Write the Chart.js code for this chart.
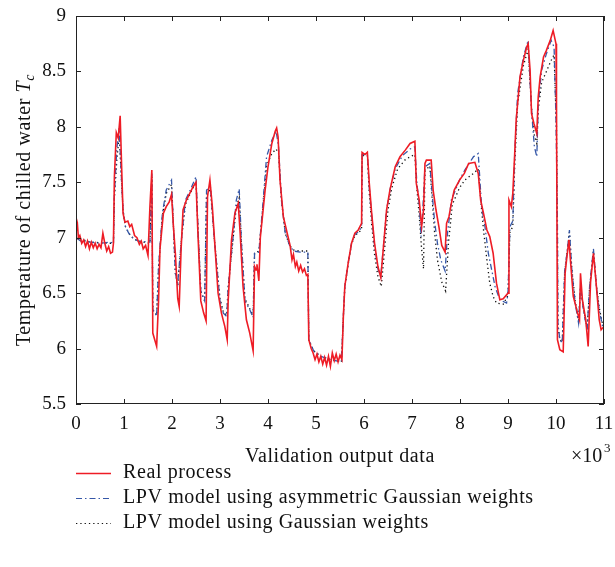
<!DOCTYPE html>
<html>
<head>
<meta charset="utf-8">
<script src="https://cdn.jsdelivr.net/npm/chart.js@4.4.1/dist/chart.umd.min.js"></script>
<style>
  html, body { margin: 0; padding: 0; background: #fff; }
  #wrap { width: 615px; height: 567px; }
</style>
</head>
<body>
<div id="wrap"><canvas id="chart" width="615" height="567"></canvas></div>
<script>
// ---------------------------------------------------------------------------
// Data (x in thousands of samples, y = chilled water temperature)
// ---------------------------------------------------------------------------
const realProcess = [
  [0.00, 7.05], [0.03, 7.12], [0.05, 7.00], [0.08, 7.02], [0.12, 6.95], [0.16, 6.98],
  [0.20, 6.92], [0.24, 6.97], [0.28, 6.90], [0.32, 6.96], [0.36, 6.91], [0.40, 6.95],
  [0.44, 6.90], [0.48, 6.94], [0.52, 6.91], [0.56, 7.04], [0.60, 6.95], [0.64, 6.88],
  [0.68, 6.92], [0.72, 6.86], [0.76, 6.87], [0.78, 6.95], [0.80, 7.55], [0.84, 7.95],
  [0.88, 7.90], [0.92, 8.10], [0.95, 7.65], [0.98, 7.22], [1.02, 7.14], [1.08, 7.15],
  [1.12, 7.10], [1.16, 7.12], [1.22, 7.02], [1.27, 7.00], [1.32, 6.94], [1.36, 6.97],
  [1.40, 6.90], [1.45, 6.93], [1.50, 6.84], [1.54, 7.28], [1.58, 7.61], [1.60, 6.14],
  [1.64, 6.08], [1.68, 6.02], [1.72, 6.43], [1.75, 6.90], [1.82, 7.22], [1.88, 7.28],
  [1.94, 7.32], [1.99, 7.39], [2.03, 7.10], [2.07, 6.86], [2.12, 6.45], [2.15, 6.38],
  [2.19, 6.90], [2.23, 7.25], [2.30, 7.34], [2.37, 7.40], [2.44, 7.46], [2.50, 7.50],
  [2.54, 7.04], [2.60, 6.43], [2.66, 6.32], [2.71, 6.25], [2.74, 7.37], [2.79, 7.52],
  [2.84, 7.28], [2.90, 6.89], [2.96, 6.50], [3.03, 6.32], [3.10, 6.20], [3.15, 6.08],
  [3.17, 6.43], [3.24, 6.98], [3.31, 7.22], [3.38, 7.31], [3.42, 7.04], [3.48, 6.56],
  [3.55, 6.26], [3.62, 6.14], [3.69, 5.98], [3.72, 6.74], [3.75, 6.71], [3.77, 6.76],
  [3.81, 6.61], [3.84, 7.00], [3.94, 7.43], [4.00, 7.64], [4.08, 7.85], [4.15, 7.96],
  [4.18, 7.99], [4.21, 7.91], [4.25, 7.52], [4.32, 7.19], [4.40, 7.04], [4.46, 6.93],
  [4.50, 6.80], [4.53, 6.85], [4.57, 6.74], [4.60, 6.78], [4.64, 6.70], [4.68, 6.75],
  [4.72, 6.69], [4.76, 6.72], [4.80, 6.66], [4.83, 6.67], [4.85, 6.08], [4.90, 6.00],
  [4.94, 5.96], [4.98, 5.90], [5.02, 5.95], [5.06, 5.88], [5.10, 5.93], [5.14, 5.86],
  [5.18, 5.92], [5.22, 5.85], [5.26, 5.93], [5.30, 5.84], [5.34, 5.96], [5.38, 5.89],
  [5.42, 5.95], [5.46, 5.88], [5.50, 5.94], [5.54, 5.90], [5.57, 6.29], [5.60, 6.56],
  [5.67, 6.77], [5.74, 6.95], [5.81, 7.04], [5.88, 7.07], [5.95, 7.13], [5.96, 7.77],
  [6.02, 7.75], [6.07, 7.77], [6.11, 7.49], [6.16, 7.22], [6.22, 6.95], [6.29, 6.74],
  [6.35, 6.64], [6.40, 6.89], [6.47, 7.25], [6.54, 7.43], [6.65, 7.64], [6.75, 7.73],
  [6.86, 7.79], [6.96, 7.85], [7.06, 7.87], [7.09, 7.49], [7.15, 7.34], [7.20, 7.10],
  [7.24, 7.25], [7.27, 7.67], [7.30, 7.70], [7.40, 7.70], [7.44, 7.43], [7.50, 7.25],
  [7.56, 7.10], [7.62, 6.93], [7.69, 6.87], [7.72, 7.13], [7.77, 7.19], [7.82, 7.31],
  [7.88, 7.43], [7.99, 7.52], [8.09, 7.58], [8.18, 7.67], [8.31, 7.68], [8.38, 7.58],
  [8.43, 7.34], [8.49, 7.22], [8.56, 7.07], [8.62, 7.01], [8.69, 6.86], [8.76, 6.59],
  [8.83, 6.44], [8.90, 6.45], [9.00, 6.50], [9.02, 7.34], [9.07, 7.28], [9.10, 7.40],
  [9.14, 7.76], [9.17, 8.06], [9.25, 8.45], [9.32, 8.60], [9.39, 8.72], [9.42, 8.75],
  [9.46, 8.51], [9.49, 8.12], [9.54, 8.03], [9.60, 7.94], [9.63, 8.27], [9.67, 8.45],
  [9.74, 8.63], [9.80, 8.69], [9.88, 8.78], [9.94, 8.87], [10.00, 8.75], [10.01, 8.24],
  [10.03, 6.08], [10.08, 5.99], [10.15, 5.97], [10.19, 6.68], [10.22, 6.80], [10.27, 6.98],
  [10.30, 6.80], [10.36, 6.47], [10.45, 6.32], [10.49, 6.26], [10.51, 6.68], [10.55, 6.44],
  [10.62, 6.26], [10.67, 6.02], [10.72, 6.60], [10.78, 6.86], [10.83, 6.62], [10.90, 6.26],
  [10.94, 6.17], [11.00, 6.20]
];

const lpvAsymmetric = [
  [0.00, 7.00], [0.10, 6.97], [0.30, 6.96], [0.50, 6.95], [0.70, 6.96], [0.78, 6.95],
  [0.80, 7.40], [0.85, 7.80], [0.90, 7.99], [0.95, 7.50], [0.98, 7.25], [1.03, 7.10],
  [1.10, 7.04], [1.20, 6.99], [1.30, 6.97], [1.54, 6.96], [1.58, 7.58], [1.60, 6.35],
  [1.65, 6.32], [1.68, 6.29], [1.72, 6.74], [1.80, 7.22], [1.88, 7.43], [1.99, 7.52],
  [2.03, 7.10], [2.07, 6.68], [2.12, 6.59], [2.20, 7.00], [2.28, 7.34], [2.38, 7.43],
  [2.50, 7.55], [2.54, 7.10], [2.60, 6.52], [2.68, 6.43], [2.72, 7.43], [2.80, 7.46],
  [2.88, 7.00], [3.00, 6.43], [3.07, 6.32], [3.14, 6.29], [3.17, 6.55], [3.28, 7.04],
  [3.34, 7.34], [3.40, 7.44], [3.45, 6.93], [3.52, 6.43], [3.62, 6.35], [3.69, 6.28],
  [3.72, 6.86], [3.81, 6.87], [3.90, 7.34], [3.97, 7.73], [4.08, 7.88], [4.17, 7.96],
  [4.22, 7.82], [4.28, 7.34], [4.36, 7.04], [4.45, 6.93], [4.53, 6.88], [4.67, 6.87],
  [4.83, 6.87], [4.85, 6.08], [4.95, 5.98], [5.10, 5.93], [5.30, 5.90], [5.53, 5.88],
  [5.57, 6.29], [5.60, 6.56], [5.67, 6.77], [5.74, 6.95], [5.81, 7.03], [5.90, 7.06],
  [5.95, 7.10], [5.96, 7.75], [6.07, 7.75], [6.11, 7.45], [6.16, 7.20], [6.22, 6.93],
  [6.29, 6.72], [6.35, 6.65], [6.40, 6.90], [6.47, 7.25], [6.55, 7.45], [6.65, 7.62],
  [6.80, 7.74], [6.96, 7.80], [7.06, 7.82], [7.10, 7.50], [7.15, 7.30], [7.19, 7.01],
  [7.23, 7.30], [7.27, 7.64], [7.37, 7.67], [7.42, 7.40], [7.47, 7.15], [7.53, 6.95],
  [7.60, 6.80], [7.69, 6.70], [7.74, 7.04], [7.82, 7.34], [7.99, 7.52], [8.10, 7.61],
  [8.28, 7.73], [8.38, 7.76], [8.45, 7.28], [8.52, 7.10], [8.59, 6.86], [8.66, 6.71],
  [8.73, 6.56], [8.83, 6.44], [8.97, 6.41], [9.00, 6.50], [9.04, 7.10], [9.10, 7.15],
  [9.14, 7.76], [9.20, 8.30], [9.32, 8.63], [9.42, 8.78], [9.46, 8.40], [9.50, 8.09],
  [9.55, 7.82], [9.60, 7.73], [9.63, 8.20], [9.70, 8.51], [9.80, 8.66], [9.90, 8.78],
  [9.96, 8.72], [10.00, 8.06], [10.03, 7.16], [10.04, 6.23], [10.08, 6.08], [10.13, 6.05],
  [10.18, 6.70], [10.24, 6.90], [10.28, 7.07], [10.33, 6.71], [10.40, 6.41], [10.47, 6.23],
  [10.51, 6.55], [10.58, 6.32], [10.65, 6.17], [10.70, 6.56], [10.78, 6.90], [10.84, 6.56],
  [10.90, 6.35], [10.97, 6.20], [11.00, 6.18]
];

const lpvGaussian = [
  [0.00, 7.00], [0.30, 6.96], [0.70, 6.95], [0.78, 6.95], [0.80, 7.35], [0.85, 7.70],
  [0.90, 7.92], [0.95, 7.50], [0.98, 7.25], [1.03, 7.10], [1.10, 7.04], [1.20, 6.99],
  [1.30, 6.97], [1.54, 6.95], [1.58, 7.55], [1.60, 6.35], [1.65, 6.32], [1.68, 6.30],
  [1.72, 6.72], [1.80, 7.20], [1.88, 7.40], [1.99, 7.48], [2.03, 7.10], [2.07, 6.68],
  [2.12, 6.57], [2.20, 7.00], [2.28, 7.30], [2.38, 7.40], [2.50, 7.50], [2.54, 7.10],
  [2.60, 6.52], [2.68, 6.43], [2.72, 7.38], [2.80, 7.44], [2.88, 7.00], [3.00, 6.45],
  [3.07, 6.33], [3.14, 6.30], [3.17, 6.55], [3.28, 7.02], [3.34, 7.28], [3.40, 7.36],
  [3.45, 6.93], [3.52, 6.45], [3.62, 6.36], [3.69, 6.30], [3.72, 6.86], [3.81, 6.88],
  [3.90, 7.30], [3.97, 7.65], [4.08, 7.76], [4.17, 7.80], [4.22, 7.76], [4.28, 7.34],
  [4.36, 7.04], [4.45, 6.93], [4.53, 6.89], [4.67, 6.88], [4.83, 6.88], [4.85, 6.08],
  [4.95, 5.98], [5.10, 5.93], [5.30, 5.90], [5.53, 5.88], [5.57, 6.29], [5.60, 6.55],
  [5.67, 6.76], [5.74, 6.94], [5.81, 7.02], [5.90, 7.05], [5.95, 7.08], [5.96, 7.74],
  [6.07, 7.74], [6.11, 7.40], [6.16, 7.12], [6.22, 6.85], [6.29, 6.65], [6.36, 6.56],
  [6.42, 6.85], [6.50, 7.25], [6.58, 7.45], [6.70, 7.62], [6.85, 7.70], [6.96, 7.73],
  [7.06, 7.75], [7.10, 7.45], [7.15, 7.20], [7.20, 6.90], [7.24, 6.72], [7.27, 7.60],
  [7.37, 7.65], [7.42, 7.35], [7.47, 7.05], [7.53, 6.80], [7.62, 6.60], [7.70, 6.52],
  [7.76, 6.95], [7.84, 7.30], [7.99, 7.45], [8.10, 7.52], [8.28, 7.58], [8.38, 7.62],
  [8.45, 7.25], [8.49, 7.07], [8.56, 6.80], [8.62, 6.59], [8.69, 6.47], [8.76, 6.41],
  [8.90, 6.40], [9.00, 6.48], [9.04, 7.05], [9.10, 7.10], [9.14, 7.65], [9.20, 8.20],
  [9.32, 8.55], [9.42, 8.70], [9.46, 8.40], [9.50, 8.10], [9.55, 7.92], [9.60, 7.85],
  [9.63, 8.15], [9.70, 8.40], [9.80, 8.50], [9.90, 8.60], [9.96, 8.65], [10.01, 8.00],
  [10.03, 7.00], [10.04, 6.20], [10.08, 6.08], [10.13, 6.06], [10.18, 6.68], [10.24, 6.90],
  [10.28, 7.05], [10.33, 6.72], [10.40, 6.43], [10.47, 6.25], [10.51, 6.55], [10.58, 6.34],
  [10.65, 6.18], [10.70, 6.55], [10.78, 6.88], [10.84, 6.58], [10.90, 6.37], [10.97, 6.22],
  [11.00, 6.20]
];

const xTicks = [0, 1, 2, 3, 4, 5, 6, 7, 8, 9, 10, 11];
const yTicks = [5.5, 6, 6.5, 7, 7.5, 8, 8.5, 9];
const seriesLabels = [
  "Real process",
  "LPV model using asymmetric Gaussian weights",
  "LPV model using Gaussian weights"
];

// ---------------------------------------------------------------------------
// Styling
// ---------------------------------------------------------------------------
const SERIF = "'Liberation Serif', 'DejaVu Serif', serif";
const RED = "#ee1c25";
const BLUE = "#3557a8";
const BLACK = "#111";
const DASHDOT = [6, 3, 1.5, 3];
const DOTTED = [1.3, 3];

const toXY = arr => arr.map(([x, y]) => ({ x, y }));

// box, inward ticks, axis titles and legend
const decor = {
  id: "decor",
  afterDraw(chart) {
    const { ctx, chartArea: a, scales } = chart;
    const xs = scales.x, ys = scales.y;
    ctx.save();
    ctx.strokeStyle = "#222";
    ctx.lineWidth = 1;
    ctx.setLineDash([]);
    ctx.strokeRect(a.left + 0.5, a.top + 0.5, a.right - a.left - 1, a.bottom - a.top - 1);

    const tl = 5;
    ctx.beginPath();
    for (const v of xTicks) {
      const px = Math.round(xs.getPixelForValue(v)) + 0.5;
      ctx.moveTo(px, a.bottom); ctx.lineTo(px, a.bottom - tl);
      ctx.moveTo(px, a.top); ctx.lineTo(px, a.top + tl);
    }
    for (const v of yTicks) {
      const py = Math.round(ys.getPixelForValue(v)) + 0.5;
      ctx.moveTo(a.left, py); ctx.lineTo(a.left + tl, py);
      ctx.moveTo(a.right, py); ctx.lineTo(a.right - tl, py);
    }
    ctx.stroke();

    ctx.fillStyle = "#111";
    ctx.letterSpacing = "0.6px";

    // x axis title + multiplier
    ctx.font = `20px ${SERIF}`;
    ctx.textAlign = "center";
    ctx.textBaseline = "alphabetic";
    ctx.fillText("Validation output data", (a.left + a.right) / 2, 462);
    ctx.textAlign = "left";
    ctx.letterSpacing = "0px";
    ctx.fillText("\u00d710", 571, 462);
    ctx.font = `13px ${SERIF}`;
    ctx.fillText("3", 604, 452);
    ctx.letterSpacing = "0.6px";

    // y axis title (rotated), italic T with subscript c
    ctx.save();
    ctx.translate(30, (a.top + a.bottom) / 2);
    ctx.rotate(-Math.PI / 2);
    ctx.font = `20px ${SERIF}`;
    const main = "Temperature of chilled water ";
    const wMain = ctx.measureText(main).width;
    ctx.font = `italic 20px ${SERIF}`;
    const wT = ctx.measureText("T").width;
    ctx.font = `italic 14px ${SERIF}`;
    const wc = ctx.measureText("c").width;
    const x0 = -(wMain + wT + wc) / 2;
    ctx.textAlign = "left";
    ctx.font = `20px ${SERIF}`;
    ctx.fillText(main, x0, 0);
    ctx.font = `italic 20px ${SERIF}`;
    ctx.fillText("T", x0 + wMain, 0);
    ctx.font = `italic 14px ${SERIF}`;
    ctx.fillText("c", x0 + wMain + wT, 4);
    ctx.restore();

    // legend
    const rows = [
      { color: RED, dash: [], width: 1.5 },
      { color: BLUE, dash: DASHDOT, width: 1.2 },
      { color: BLACK, dash: DOTTED, width: 1.2 }
    ];
    const ly = [473, 498, 523];
    ctx.font = `20px ${SERIF}`;
    ctx.textBaseline = "middle";
    rows.forEach((r, i) => {
      ctx.beginPath();
      ctx.strokeStyle = r.color;
      ctx.lineWidth = r.width;
      ctx.setLineDash(r.dash);
      ctx.moveTo(76, ly[i] + 0.5);
      ctx.lineTo(111, ly[i] + 0.5);
      ctx.stroke();
      ctx.fillStyle = "#111";
      ctx.fillText(seriesLabels[i], 123, ly[i]);
    });
    ctx.restore();
  }
};

new Chart(document.getElementById("chart"), {
  type: "line",
  data: {
    datasets: [
      { label: seriesLabels[0], data: toXY(realProcess), borderColor: RED, borderWidth: 1.6 },
      { label: seriesLabels[1], data: toXY(lpvAsymmetric), borderColor: BLUE, borderWidth: 1.3, borderDash: DASHDOT },
      { label: seriesLabels[2], data: toXY(lpvGaussian), borderColor: BLACK, borderWidth: 1.3, borderDash: DOTTED }
    ]
  },
  options: {
    responsive: false,
    animation: false,
    events: [],
    layout: { padding: { top: 16, right: 11, left: 0, bottom: 0 } },
    elements: { point: { radius: 0 }, line: { tension: 0, fill: false } },
    plugins: { legend: { display: false }, tooltip: { enabled: false } },
    scales: {
      x: {
        type: "linear", min: 0, max: 11,
        afterBuildTicks: s => { s.ticks = xTicks.map(v => ({ value: v })); },
        afterFit: s => { s.height = 163; s.paddingLeft = 0; s.paddingRight = 0; },
        grid: { display: false, drawTicks: false },
        border: { display: false },
        ticks: { padding: 9, color: "#111", font: { family: SERIF, size: 19 }, maxRotation: 0, callback: v => String(v) }
      },
      y: {
        type: "linear", min: 5.5, max: 9,
        afterBuildTicks: s => { s.ticks = yTicks.map(v => ({ value: v })); },
        afterFit: s => { s.width = 76; s.paddingTop = 0; s.paddingBottom = 0; },
        grid: { display: false, drawTicks: false },
        border: { display: false },
        ticks: { padding: 10, color: "#111", font: { family: SERIF, size: 19 }, callback: v => String(v) }
      }
    }
  },
  plugins: [decor]
});
</script>
</body>
</html>
